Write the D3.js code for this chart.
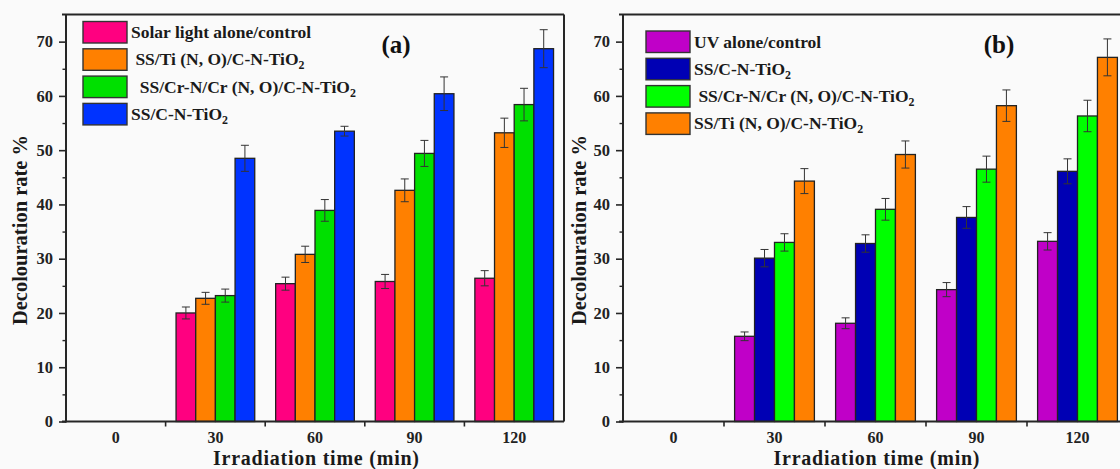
<!DOCTYPE html>
<html>
<head>
<meta charset="utf-8">
<script src="https://cdn.jsdelivr.net/npm/d3@7/dist/d3.min.js"></script>
<style>
  html, body { margin: 0; padding: 0; background: #fafafa; }
  svg { display: block; font-family: "Liberation Serif", "DejaVu Serif", serif; font-weight: bold; }
  .lbl { white-space: pre; }
</style>
</head>
<body>
<svg id="chart" width="1120" height="469"></svg>
<script>
// ---------- data ----------
const categories = ["0", "30", "60", "90", "120"];
const yTicks = [0, 10, 20, 30, 40, 50, 60, 70];

// panel (a)
const seriesNamesA = ["Solar light alone/control", " SS/Ti (N, O)/C-N-TiO2", "  SS/Cr-N/Cr (N, O)/C-N-TiO2", "SS/C-N-TiO2"];
const solarA  = [0, 20.0, 25.4, 25.8, 26.4];
const solarErrA = [0, 1.1, 1.2, 1.3, 1.4];
const tiA     = [0, 22.7, 30.8, 42.6, 53.2];
const tiErrA  = [0, 1.1, 1.5, 2.1, 2.7];
const crA     = [0, 23.2, 38.9, 49.4, 58.4];
const crErrA  = [0, 1.2, 2.0, 2.4, 3.0];
const cntA    = [0, 48.5, 53.5, 60.4, 68.7];
const cntErrA = [0, 2.4, 0.9, 3.1, 3.5];
const colorsA = ["#ff0080", "#ff8000", "#00e000", "#0033ff"];

// panel (b)
const seriesNamesB = ["UV alone/control", "SS/C-N-TiO2", " SS/Cr-N/Cr (N, O)/C-N-TiO2", "SS/Ti (N, O)/C-N-TiO2"];
const uvB     = [0, 15.7, 18.1, 24.3, 33.2];
const uvErrB  = [0, 0.8, 1.0, 1.3, 1.6];
const cntB    = [0, 30.1, 32.8, 37.6, 46.1];
const cntErrB = [0, 1.6, 1.6, 2.0, 2.3];
const crB     = [0, 33.0, 39.1, 46.5, 56.3];
const crErrB  = [0, 1.6, 2.0, 2.4, 2.9];
const tiB     = [0, 44.3, 49.2, 58.2, 67.1];
const tiErrB  = [0, 2.3, 2.5, 2.9, 3.4];
const colorsB = ["#c000c8", "#0000b4", "#00ff00", "#ff8000"];

const yTitle = "Decolouration rate %";
const xTitle = "Irradiation time (min)";

// ---------- drawing ----------
const svg = d3.select("#chart");
const AX = "#262626";

const y = d3.scaleLinear().domain([0, 75]).range([421.5, 14.5]);

function addLabel(sel, txt) {
  // render trailing "TiO2" with subscript 2
  const m = txt.match(/^(.*TiO)2$/);
  if (m) {
    sel.append("tspan").text(m[1]);
    sel.append("tspan").attr("font-size", "0.68em").attr("dy", 4).text("2");
  } else {
    sel.text(txt);
  }
}

function drawPanel(p) {
  const g = svg.append("g");
  const x = d3.scaleBand().domain(categories).range([p.left, p.right])
    .paddingInner(0.21).paddingOuter(0.105);
  const xs = d3.scaleBand().domain(d3.range(p.values.length)).range([0, x.bandwidth()]);
  const step = x.step();

  // frame (top + optional right)
  g.append("line").attr("x1", p.left - 4).attr("x2", p.frameRight)
    .attr("y1", y(75)).attr("y2", y(75)).attr("stroke", AX).attr("stroke-width", 2);
  if (p.drawRight) {
    g.append("line").attr("x1", p.frameRight).attr("x2", p.frameRight)
      .attr("y1", y(75)).attr("y2", y(0)).attr("stroke", AX).attr("stroke-width", 2);
  }

  // bars
  p.values.forEach((vals, si) => {
    g.append("g").selectAll("rect").data(vals).join("rect")
      .attr("x", (d, i) => x(categories[i]) + xs(si))
      .attr("y", d => y(d))
      .attr("width", xs.bandwidth())
      .attr("height", d => y(0) - y(d))
      .attr("fill", p.colors[si])
      .attr("stroke", "#222").attr("stroke-width", 1.3);
  });
  // error bars
  p.values.forEach((vals, si) => {
    const eg = g.append("g").attr("stroke", "#333").attr("stroke-width", 1);
    vals.forEach((v, i) => {
      const e = p.errs[si][i];
      if (!e) return;
      const cx = x(categories[i]) + xs(si) + xs.bandwidth() / 2;
      eg.append("line").attr("x1", cx).attr("x2", cx).attr("y1", y(v - e)).attr("y2", y(v + e));
      eg.append("line").attr("x1", cx - 4).attr("x2", cx + 4).attr("y1", y(v - e)).attr("y2", y(v - e));
      eg.append("line").attr("x1", cx - 4).attr("x2", cx + 4).attr("y1", y(v + e)).attr("y2", y(v + e));
    });
  });

  // y axis
  const yAxis = g.append("g").attr("transform", `translate(${p.left},0)`)
    .call(d3.axisLeft(y).tickValues(yTicks).tickSize(7).tickPadding(6).tickFormat(d3.format("d")));
  yAxis.select(".domain").remove();
  yAxis.selectAll(".tick line").attr("stroke", AX).attr("stroke-width", 1.6);
  yAxis.selectAll(".tick text").attr("font-size", 16.5).attr("font-family", "Liberation Serif")
    .attr("font-weight", "bold").attr("fill", "#222");
  const minor = g.append("g").attr("transform", `translate(${p.left},0)`)
    .call(d3.axisLeft(y).tickValues(yTicks.map(t => t + 5).filter(t => t < 75)).tickSize(3.5).tickFormat(""));
  minor.select(".domain").remove();
  minor.selectAll(".tick line").attr("stroke", AX).attr("stroke-width", 1.4);
  g.append("line").attr("x1", p.left).attr("x2", p.left).attr("y1", y(75)).attr("y2", y(0) + 1)
    .attr("stroke", AX).attr("stroke-width", 2);

  // x axis
  const xAxis = g.append("g").attr("transform", `translate(0,${y(0)})`)
    .call(d3.axisBottom(x).tickSize(0).tickPadding(10));
  xAxis.select(".domain").remove();
  xAxis.selectAll(".tick text").attr("font-size", 16).attr("font-family", "Liberation Serif")
    .attr("font-weight", "bold").attr("fill", "#222");
  g.append("line").attr("x1", p.left - 4).attr("x2", p.frameRight).attr("y1", y(0)).attr("y2", y(0))
    .attr("stroke", AX).attr("stroke-width", 2);
  // boundary ticks between categories
  g.append("g").selectAll("line").data(categories.slice(0, -1)).join("line")
    .attr("x1", c => x(c) + x.bandwidth() / 2 + step / 2)
    .attr("x2", c => x(c) + x.bandwidth() / 2 + step / 2)
    .attr("y1", y(0)).attr("y2", y(0) + 5)
    .attr("stroke", AX).attr("stroke-width", 1.6);

  // titles
  g.append("text").attr("transform", `translate(${p.yTitleX},${(y(0) + y(75)) / 2 + 12}) rotate(-90)`)
    .attr("text-anchor", "middle").attr("font-size", 20.5).attr("fill", "#1a1a1a").text(yTitle);
  g.append("text").attr("x", (x(categories[0]) + x(categories[4]) + x.bandwidth()) / 2 + 1).attr("y", 465)
    .attr("text-anchor", "middle").attr("font-size", 20).attr("textLength", 206)
    .attr("fill", "#1a1a1a").text(xTitle);

  // panel tag
  g.append("text").attr("x", p.tagX).attr("y", 53).attr("text-anchor", "middle")
    .attr("font-size", 25).attr("fill", "#111").text(p.tag);

  // legend
  const lg = g.append("g");
  p.names.forEach((n, i) => {
    const ty = p.legTop + i * 27.3;
    lg.append("rect").attr("x", p.legX).attr("y", ty).attr("width", 44).attr("height", 21.5)
      .attr("fill", p.colors[i]).attr("stroke", "#333").attr("stroke-width", 1.4);
    const t = lg.append("text").attr("class", "lbl").attr("x", p.legX + 48).attr("y", ty + 16.5)
      .attr("font-size", 17.5).attr("fill", "#1a1a1a");
    addLabel(t, n);
  });
}

drawPanel({
  left: 66, right: 564, frameRight: 564, drawRight: true,
  values: [solarA, tiA, crA, cntA],
  errs: [solarErrA, tiErrA, crErrA, cntErrA],
  colors: colorsA, names: seriesNamesA,
  legX: 83, legTop: 21.5, tag: "(a)", tagX: 396, yTitleX: 27
});
drawPanel({
  left: 623, right: 1128, frameRight: 1120, drawRight: false,
  values: [uvB, cntB, crB, tiB],
  errs: [uvErrB, cntErrB, crErrB, tiErrB],
  colors: colorsB, names: seriesNamesB,
  legX: 646, legTop: 31, tag: "(b)", tagX: 999, yTitleX: 586
});
</script>
</body>
</html>
